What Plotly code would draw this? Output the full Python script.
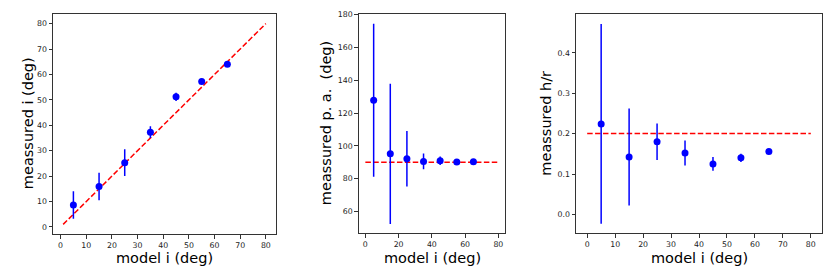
import plotly.graph_objects as go

model_i = [5, 15, 25, 35, 45, 55, 65]

meas_i = [8.6, 15.9, 25.3, 37.3, 51.2, 57.2, 64.0]
meas_i_err = [5.4, 5.4, 5.3, 2.3, 1.6, 1.0, 0.5]

meas_pa = [127.8, 95.1, 92.1, 90.5, 90.9, 90.1, 90.3]
meas_pa_err = [46.6, 42.7, 16.9, 4.8, 2.6, 1.2, 1.0]

meas_hr = [0.224, 0.142, 0.180, 0.152, 0.125, 0.140, 0.156]
meas_hr_err = [0.247, 0.120, 0.045, 0.031, 0.017, 0.010, 0.004]

ref_i_x = [1, 80]
ref_i_y = [1, 80]
ref_pa_x = [0, 80]
ref_pa_y = [90, 90]
ref_hr_x = [0, 80]
ref_hr_y = [0.2, 0.2]

xticks_1 = [0, 10, 20, 30, 40, 50, 60, 70, 80]
yticks_1 = [0, 10, 20, 30, 40, 50, 60, 70, 80]
xticks_2 = [0, 20, 40, 60, 80]
yticks_2 = [60, 80, 100, 120, 140, 160, 180]
xticks_3 = [0, 10, 20, 30, 40, 50, 60, 70, 80]
yticks_3 = [0.0, 0.1, 0.2, 0.3, 0.4]

W, H = 830, 274
BLUE = "#0000ff"
RED = "#ff0000"
FONT = "DejaVu Sans"

fig = go.Figure()

def add_panel(n, xs, ys, errs, rx, ry):
    xa = "x" if n == 1 else f"x{n}"
    ya = "y" if n == 1 else f"y{n}"
    fig.add_trace(go.Scatter(x=rx, y=ry, mode="lines", xaxis=xa, yaxis=ya,
                             line=dict(color=RED, width=1.5, dash="5.5px,2.4px"),
                             showlegend=False, hoverinfo="skip"))
    fig.add_trace(go.Scatter(x=xs, y=ys, mode="markers", xaxis=xa, yaxis=ya,
                             marker=dict(color=BLUE, size=7),
                             error_y=dict(type="data", array=errs, visible=True,
                                          color=BLUE, thickness=1.5, width=0),
                             showlegend=False))

add_panel(1, model_i, meas_i, meas_i_err, ref_i_x, ref_i_y)
add_panel(2, model_i, meas_pa, meas_pa_err, ref_pa_x, ref_pa_y)
add_panel(3, model_i, meas_hr, meas_hr_err, ref_hr_x, ref_hr_y)

def px_x(a, b):
    return [a / W, b / W]

def px_y(top, bottom):
    return [(H - bottom) / H, (H - top) / H]

axis_common = dict(showgrid=False, zeroline=False, showline=True, mirror=True,
                   linecolor="#333333", linewidth=1, ticks="outside", ticklen=3.5,
                   tickwidth=0.8, tickcolor="#333333",
                   tickfont=dict(family=FONT, size=7.8, color="#222222"))

fig.update_layout(
    width=W, height=H,
    margin=dict(l=0, r=0, t=0, b=0),
    paper_bgcolor="white", plot_bgcolor="white",
    xaxis=dict(domain=px_x(53, 276), range=[-2.95, 83.95], tickvals=xticks_1, anchor="y", **axis_common),
    yaxis=dict(domain=px_y(10.7, 234), range=[-2.95, 83.95], tickvals=yticks_1, anchor="x", **axis_common),
    xaxis2=dict(domain=px_x(358.7, 505), range=[-4, 84], tickvals=xticks_2, anchor="y2", **axis_common),
    yaxis2=dict(domain=px_y(10.7, 233), range=[46.6, 180.6], tickvals=yticks_2, anchor="x2", **axis_common),
    xaxis3=dict(domain=px_x(576, 822), range=[-4, 84], tickvals=xticks_3, anchor="y3", **axis_common),
    yaxis3=dict(domain=px_y(10.7, 233), range=[-0.047, 0.497], tickvals=yticks_3, tickformat=".1f",
                anchor="x3", **axis_common),
)

title_font = dict(family=FONT, size=14.5, color="black")
annots = [
    ("model i (deg)", 164.5, 257.5, 0),
    ("model i (deg)", 432, 257.5, 0),
    ("model i (deg)", 699, 257.5, 0),
    ("meassured i (deg)", 27.5, 122, -90),
    ("meassured p. a.  (deg)", 325.5, 122, -90),
    ("meassured h/r", 546, 122, -90),
]
for txt, cx, cy, ang in annots:
    fig.add_annotation(text=txt, x=cx / W, y=(H - cy) / H, xref="paper", yref="paper",
                       xanchor="center", yanchor="middle", showarrow=False, borderpad=0,
                       textangle=ang, font=title_font)

fig.write_html("out.html", config={"displayModeBar": False},
               post_script="document.body.style.margin='0px';")
